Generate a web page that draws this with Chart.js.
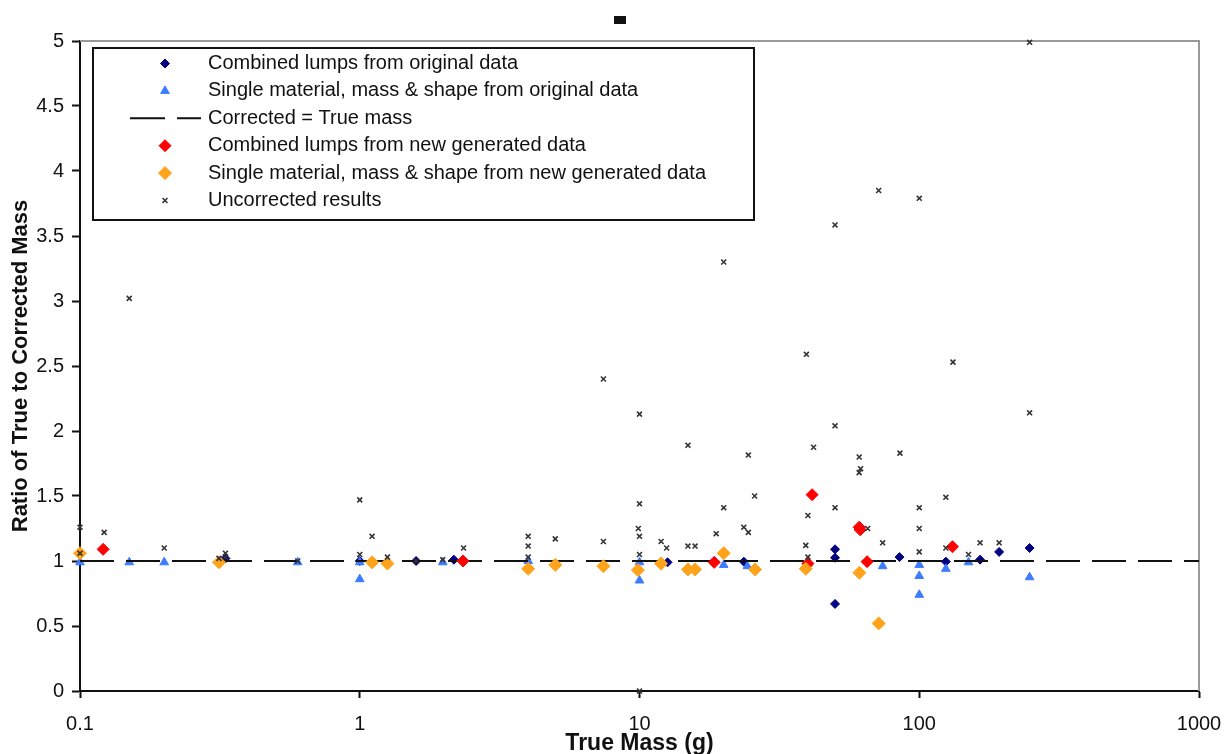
<!DOCTYPE html>
<html>
<head>
<meta charset="utf-8">
<style>
  html, body { margin: 0; padding: 0; background: #fff; }
  #wrap { width: 1224px; height: 754px; position: relative; }
</style>
<script src="https://cdn.jsdelivr.net/npm/chart.js@4/dist/chart.umd.min.js"></script>
</head>
<body>
<div id="wrap"><canvas id="c" width="1224" height="754"></canvas></div>
<script>
// Axis ticks
const xTickValues = [0.1, 1, 10, 100, 1000];
const xTickLabels = ['0.1', '1', '10', '100', '1000'];
const yTickValues = [0, 0.5, 1, 1.5, 2, 2.5, 3, 3.5, 4, 4.5, 5];
const yTickLabels = ['0', '0.5', '1', '1.5', '2', '2.5', '3', '3.5', '4', '4.5', '5'];

// Series labels
const seriesNames = [
  'Combined lumps from original data',
  'Single material, mass & shape from original data',
  'Corrected = True mass',
  'Combined lumps from new generated data',
  'Single material, mass & shape from new generated data',
  'Uncorrected results'
];

// Combined lumps, original data
const combinedOrigMass = [0.331, 1.0, 1.59, 2.17, 12.6, 23.6, 50, 50, 50, 85, 124.5, 165, 193, 248];
const combinedOrigRatio = [1.02, 1.0, 1.0, 1.01, 0.99, 0.995, 1.09, 1.025, 0.67, 1.03, 0.995, 1.01, 1.07, 1.10];

// Single material, original data
const singleOrigMass = [0.1, 0.15, 0.2, 0.6, 1.0, 1.0, 1.98, 4.0, 10, 10, 20, 24.3, 40, 74, 100, 100, 100, 124.5, 150, 248];
const singleOrigRatio = [0.99, 0.99, 0.99, 0.99, 0.99, 0.86, 0.99, 1.0, 0.99, 0.85, 0.97, 0.96, 0.98, 0.96, 0.97, 0.885, 0.74, 0.94, 0.99, 0.875];

// Reference line: corrected equals true mass
const refMass = [0.1, 1000];
const refRatio = [1, 1];

// Combined lumps, new generated data
const combinedNewMass = [0.121, 2.34, 18.5, 40, 41.4, 61, 61.5, 65.1, 131.5];
const combinedNewRatio = [1.09, 1.0, 0.99, 0.98, 1.51, 1.26, 1.24, 0.995, 1.11];

// Single material, new generated data
const singleNewMass = [0.1, 0.314, 1.107, 1.256, 4.0, 5.0, 7.43, 9.87, 11.95, 14.9, 15.8, 20, 25.9, 39.3, 61.1, 71.6];
const singleNewRatio = [1.06, 0.99, 0.99, 0.98, 0.94, 0.97, 0.96, 0.93, 0.98, 0.935, 0.935, 1.06, 0.935, 0.94, 0.91, 0.52];

// Uncorrected results
const uncorrMass = [0.1, 0.1, 0.122, 0.15, 0.2, 0.314, 0.331, 0.331, 0.6, 1.0, 1.0, 1.107, 1.256, 1.59, 1.98, 2.35,
  4.0, 4.0, 4.0, 5.0, 7.43, 7.43, 10, 10, 9.9, 10, 10, 11.95, 12.5, 14.9, 14.9, 15.8, 18.8, 20, 20,
  23.6, 24.5, 24.5, 25.8, 39.5, 40, 39.3, 40, 41.9, 50, 50, 50, 61, 61.7, 61, 65.4, 71.6, 74, 85.3,
  100, 100, 100, 100, 124.5, 124.5, 132, 150, 165, 193, 248, 248, 10];
const uncorrRatio = [1.26, 1.06, 1.22, 3.02, 1.10, 1.02, 1.06, 1.03, 1.0, 1.47, 1.05, 1.19, 1.03, 1.0, 1.01, 1.10,
  1.19, 1.115, 1.03, 1.17, 1.15, 2.40, 2.13, 1.44, 1.25, 1.19, 1.05, 1.15, 1.10, 1.89, 1.115, 1.115, 1.21, 3.30, 1.41,
  1.26, 1.22, 1.815, 1.50, 2.59, 1.35, 1.12, 1.03, 1.875, 3.585, 2.04, 1.41, 1.80, 1.71, 1.68, 1.25, 3.85, 1.14, 1.83,
  3.79, 1.41, 1.25, 1.07, 1.49, 1.10, 2.53, 1.05, 1.14, 1.14, 2.14, 4.99, 0];

const pts = (xs, ys) => xs.map((x, i) => ({ x: x, y: ys[i] }));

const datasets = [
  {
    label: seriesNames[0], data: pts(combinedOrigMass, combinedOrigRatio), order: 5, clip: false,
    pointStyle: 'rectRot', pointRadius: 4.5, backgroundColor: '#000080', borderColor: '#000080', borderWidth: 1
  },
  {
    label: seriesNames[1], data: pts(singleOrigMass, singleOrigRatio), order: 4, clip: false,
    pointStyle: 'triangle', pointRadius: 5, backgroundColor: '#3d7bff', borderColor: '#3d7bff', borderWidth: 1
  },
  {
    type: 'line', label: seriesNames[2], data: pts(refMass, refRatio), order: 3,
    borderColor: '#111', borderWidth: 2, borderDash: [34, 12], pointRadius: 0, fill: false
  },
  {
    label: seriesNames[3], data: pts(combinedNewMass, combinedNewRatio), order: 2, clip: false,
    pointStyle: 'rectRot', pointRadius: 6, backgroundColor: '#ff0000', borderColor: '#ff0000', borderWidth: 1
  },
  {
    label: seriesNames[4], data: pts(singleNewMass, singleNewRatio), order: 1, clip: false,
    pointStyle: 'rectRot', pointRadius: 6.5, backgroundColor: '#ffa31a', borderColor: '#ffa31a', borderWidth: 1
  },
  {
    label: seriesNames[5], data: pts(uncorrMass, uncorrRatio), order: 0, clip: false,
    pointStyle: 'crossRot', pointRadius: 3.5, backgroundColor: '#333', borderColor: '#333', borderWidth: 1.6
  }
];

// Plot frame (top/right edges) and the small title block
const framePlugin = {
  id: 'frame',
  beforeDatasetsDraw(chart) {
    const { ctx, chartArea: a } = chart;
    ctx.save();
    ctx.strokeStyle = '#9a9a9a';
    ctx.lineWidth = 2;
    ctx.beginPath();
    ctx.moveTo(a.left, a.top);
    ctx.lineTo(a.right, a.top);
    ctx.lineTo(a.right, a.bottom);
    ctx.stroke();
    ctx.fillStyle = '#111';
    ctx.fillRect(chart.width / 2 + 2, 16, 12, 8);
    ctx.restore();
  }
};

// Boxed legend inside the plot area
const boxLegendPlugin = {
  id: 'boxLegend',
  afterDraw(chart) {
    const { ctx, chartArea: a } = chart;
    const bx = a.left + 13, by = a.top + 7, bw = 661, bh = 172;
    ctx.save();
    ctx.fillStyle = '#fff';
    ctx.fillRect(bx, by, bw, bh);
    ctx.strokeStyle = '#111';
    ctx.lineWidth = 2;
    ctx.strokeRect(bx, by, bw, bh);
    ctx.font = '20px "Liberation Sans", Arial, sans-serif';
    ctx.textBaseline = 'middle';
    ctx.textAlign = 'left';
    const markX = bx + 72, textX = bx + 115;
    chart.data.datasets.forEach((ds, i) => {
      const y = by + 15.5 + i * 27.4;
      if (ds.type === 'line') {
        ctx.strokeStyle = ds.borderColor;
        ctx.lineWidth = 2;
        ctx.setLineDash([35, 12]);
        ctx.beginPath();
        ctx.moveTo(bx + 37, y);
        ctx.lineTo(bx + 108, y);
        ctx.stroke();
        ctx.setLineDash([]);
      } else {
        ctx.fillStyle = ds.backgroundColor;
        ctx.strokeStyle = ds.borderColor;
        ctx.lineWidth = ds.borderWidth;
        Chart.helpers.drawPoint(ctx, { pointStyle: ds.pointStyle, radius: ds.pointRadius, borderWidth: ds.borderWidth, rotation: 0 }, markX, y);
      }
      ctx.fillStyle = '#111';
      ctx.fillText(ds.label, textX, y);
    });
    ctx.restore();
  }
};

new Chart(document.getElementById('c'), {
  type: 'scatter',
  data: { datasets: datasets },
  options: {
    responsive: false,
    animation: false,
    layout: { padding: { top: 41, right: 25, left: 0, bottom: 0 } },
    plugins: { legend: { display: false }, tooltip: { enabled: false } },
    scales: {
      x: {
        type: 'logarithmic',
        min: 0.1, max: 1000,
        afterBuildTicks(scale) { scale.ticks = xTickValues.map(v => ({ value: v })); },
        afterFit(scale) { scale.height = 63; scale.paddingLeft = 0; scale.paddingRight = 0; },
        ticks: {
          autoSkip: false, maxRotation: 0, padding: 14, color: '#111',
          font: { family: '"Liberation Sans", Arial, sans-serif', size: 20 },
          callback: (v, i) => xTickLabels[i]
        },
        grid: { drawOnChartArea: false, tickLength: 7, color: '#111', tickWidth: 2 },
        border: { color: '#111', width: 2 },
        title: {
          display: true, text: 'True Mass (g)', color: '#111',
          font: { family: '"Liberation Sans", Arial, sans-serif', size: 23, weight: 'bold', lineHeight: 1 },
          padding: { top: 0, bottom: -1 }
        }
      },
      y: {
        min: 0, max: 5,
        afterBuildTicks(scale) { scale.ticks = yTickValues.map(v => ({ value: v })); },
        afterFit(scale) { scale.width = 80; },
        ticks: {
          autoSkip: false, padding: 8, color: '#111',
          font: { family: '"Liberation Sans", Arial, sans-serif', size: 20 },
          callback: (v, i) => yTickLabels[i]
        },
        grid: { drawOnChartArea: false, tickLength: 8, color: '#111', tickWidth: 2 },
        border: { color: '#111', width: 2 },
        title: {
          display: true, text: 'Ratio of True to Corrected Mass', color: '#111',
          font: { family: '"Liberation Sans", Arial, sans-serif', size: 22, weight: 'bold', lineHeight: 1 },
          padding: { top: 10, bottom: 0 }
        }
      }
    }
  },
  plugins: [framePlugin, boxLegendPlugin]
});
</script>
</body>
</html>
